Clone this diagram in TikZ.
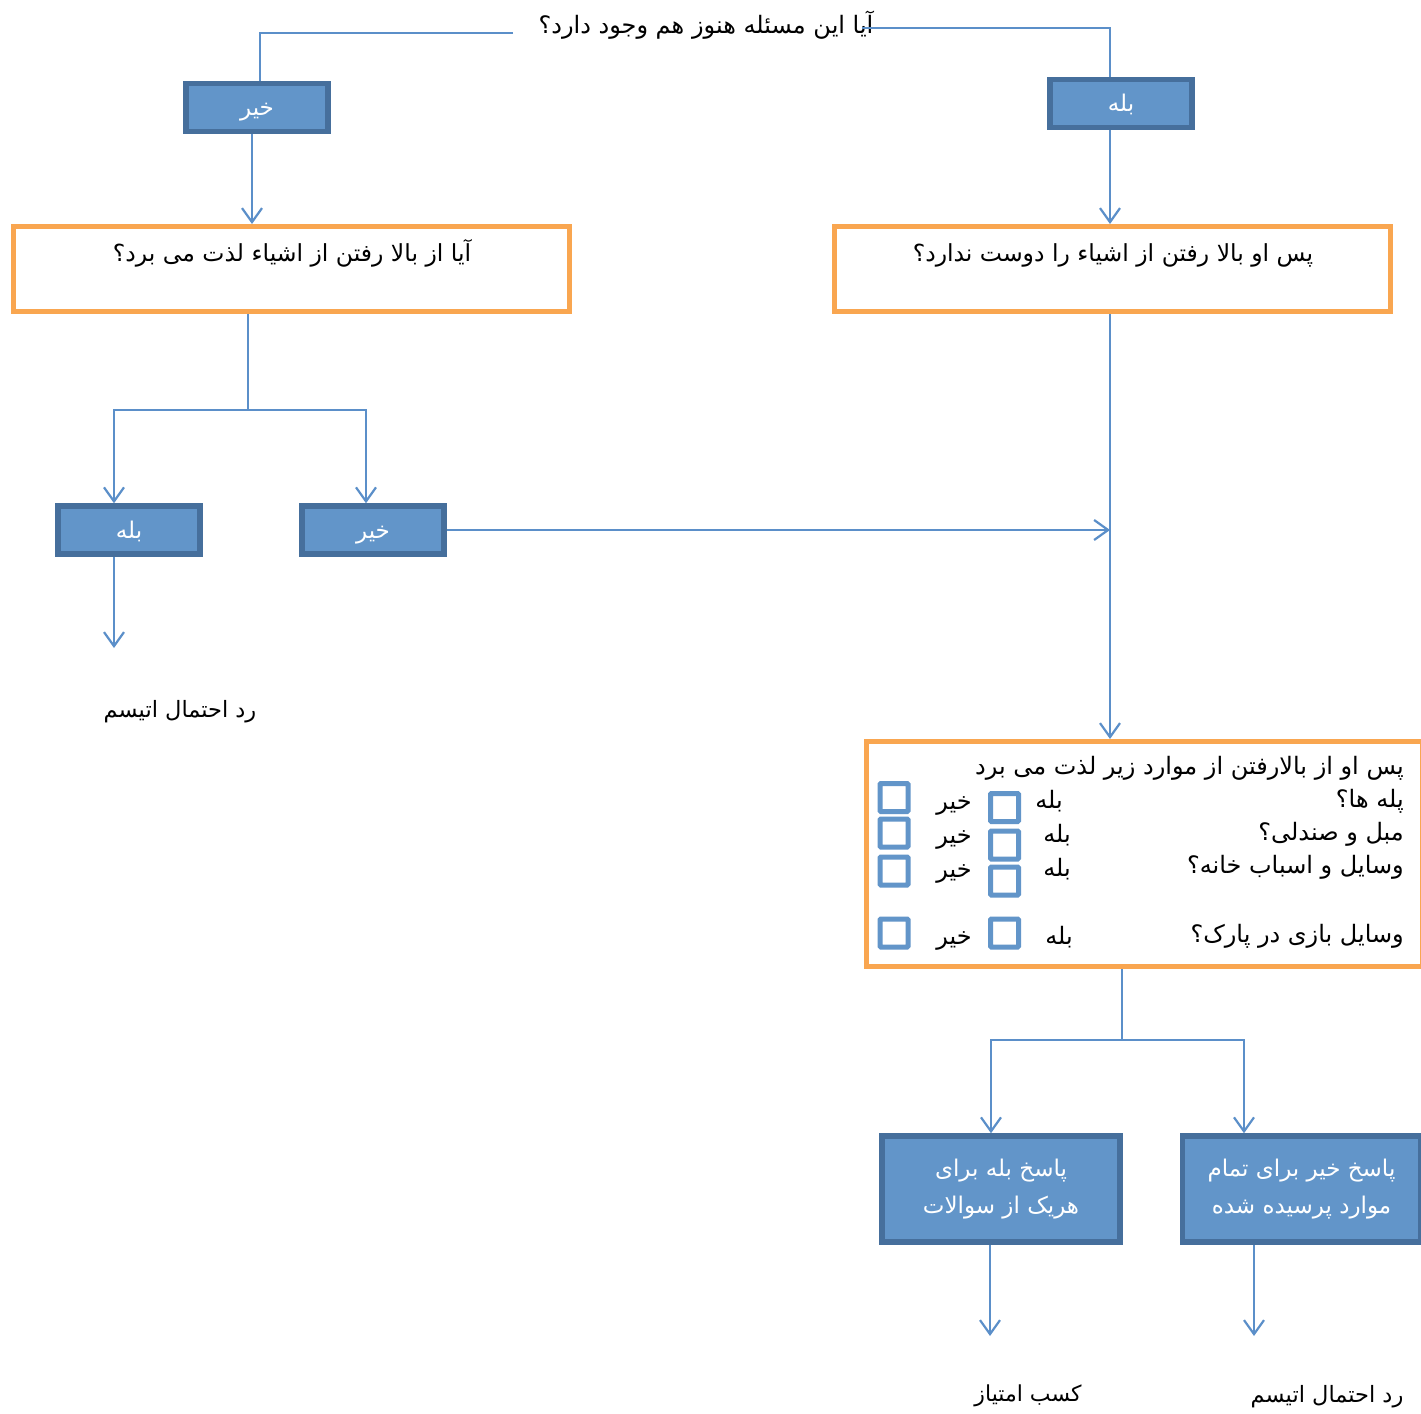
\documentclass[tikz,border=0pt]{standalone}
\usepackage{fontspec}
\newfontfamily\arabicfont[Script=Arabic]{DejaVu Sans}
\TeXXeTstate=1
\usetikzlibrary{arrows.meta}
\definecolor{boxfill}{RGB}{98,149,201}
\definecolor{boxline}{RGB}{70,111,156}
\definecolor{connc}{RGB}{91,143,201}
\definecolor{orng}{RGB}{249,166,80}
\newcommand\ptxt[1]{{\arabicfont\beginR #1\endR}}
\tikzset{
  bluebox/.style={draw=boxline, fill=boxfill, line width=5.5pt, text=white, inner sep=0pt,
    font=\fontsize{23}{27}\selectfont},
  smallbox/.style={bluebox, minimum width=142pt, minimum height=48pt, text height=18pt, text depth=2pt},
  ansbox/.style={bluebox, minimum width=238pt, minimum height=106pt, font=\fontsize{23}{37}\selectfont},
  orangebox/.style={draw=orng, line width=5pt, inner sep=0pt, minimum width=556pt},
  plain/.style={inner sep=0pt, font=\fontsize{23}{27}\selectfont},
  boxtext/.style={plain, font=\fontsize{24}{28}\selectfont},
  chk/.style={draw=boxfill, line width=5pt, minimum size=28pt, inner sep=0pt, rounded corners=1pt},
  link/.style={draw=connc, line width=2.2pt},
  arr/.style={link, -{Straight Barb[length=14pt,width=20pt]}},
}
\begin{document}
\begin{tikzpicture}[x=1pt,y=-1pt]
\useasboundingbox (0,0) rectangle (1421,1413);
\fill[white] (0,0) rectangle (1421,1413);

% top question
\node[plain, font=\fontsize{24}{28}\selectfont] (q) at (706,25) {\ptxt{آیا این مسئله هنوز هم وجود دارد؟}};
\coordinate (qw) at (513,33);
\coordinate (qe) at (862,28);

% first answers
\node[smallbox] (no1) at (257,107.5) {\ptxt{خیر}};
\node[smallbox] (yes1) at (1121,103.5) {\ptxt{بله}};

% orange question boxes
\node[orangebox, minimum height=85pt] (qLbox) at (291.5,269) {};
\node[plain, font=\fontsize{23.5}{28}\selectfont] (qLtxt) at (292,253) {\ptxt{آیا از بالا رفتن از اشیاء لذت می برد؟}};
\node[orangebox, minimum height=85pt] (qRbox) at (1112,269) {};
\node[plain, font=\fontsize{23.5}{28}\selectfont] (qRtxt) at (1113,255) {\ptxt{پس او بالا رفتن از اشیاء را دوست ندارد؟}};

% second level
\node[smallbox] (yes2) at (129,530) {\ptxt{بله}};
\node[smallbox] (no2) at (373,530) {\ptxt{خیر}};
\node[plain, font=\fontsize{22.5}{27}\selectfont] (res1) at (180,712) {\ptxt{رد احتمال اتیسم}};
\coordinate (j1) at (248,410);
\coordinate (e1) at (114,648);
\coordinate (e2) at (1110,530);

% big checklist box
\node[orangebox, minimum height=225pt] (bigbox) at (1144.5,854) {};
\node[boxtext, anchor=east] (t0) at (1404,768) {\ptxt{پس او از بالارفتن از موارد زیر لذت می برد}};
\node[boxtext, anchor=east] (t1) at (1404,801) {\ptxt{پله ها؟}};
\node[boxtext, anchor=east] (t2) at (1404,834) {\ptxt{مبل و صندلی؟}};
\node[boxtext, anchor=east] (t3) at (1404,867) {\ptxt{وسایل و اسباب خانه؟}};
\node[boxtext, anchor=east] (t4) at (1404,936) {\ptxt{وسایل بازی در پارک؟}};
\node[boxtext] (y1) at (1049,801) {\ptxt{بله}};
\node[boxtext] (y2) at (1057,835) {\ptxt{بله}};
\node[boxtext] (y3) at (1057,869) {\ptxt{بله}};
\node[boxtext] (y4) at (1059,937) {\ptxt{بله}};
\node[boxtext] (n1) at (954,806) {\ptxt{خیر}};
\node[boxtext] (n2) at (954,840) {\ptxt{خیر}};
\node[boxtext] (n3) at (954,874) {\ptxt{خیر}};
\node[boxtext] (n4) at (954,941) {\ptxt{خیر}};
\node[chk] (cl1) at (894,797.5) {};
\node[chk] (cl2) at (894,833) {};
\node[chk] (cl3) at (894,871) {};
\node[chk] (cl4) at (894,933) {};
\node[chk] (cr1) at (1004.5,807.5) {};
\node[chk] (cr2) at (1004.5,845) {};
\node[chk] (cr3) at (1004.5,881) {};
\node[chk] (cr4) at (1004.5,933) {};

% answer boxes
\node[ansbox, align=center] (ans1) at (1001,1189) {\ptxt{پاسخ بله برای}\\\ptxt{هریک از سوالات}};
\node[ansbox, align=center] (ans2) at (1301.5,1189) {\ptxt{پاسخ خیر برای تمام}\\\ptxt{موارد پرسیده شده}};
\coordinate (j2) at (1122,1040);
\coordinate (e3) at (990,1336);
\coordinate (e4) at (1254,1336);
\node[plain, font=\fontsize{22}{26}\selectfont] (res2) at (1028,1396) {\ptxt{کسب امتیاز}};
\node[plain, font=\fontsize{22.5}{27}\selectfont] (res3) at (1327,1397) {\ptxt{رد احتمال اتیسم}};

% connectors
\draw[link] (qw) -| ([xshift=3pt]no1.north);
\draw[link] (qe) -| ([xshift=-11pt]yes1.north);
\draw[arr] ([xshift=-5pt]no1.south) -- ([xshift=-5pt]no1.south |- qLbox.north);
\draw[arr] ([xshift=-11pt]yes1.south) -- ([xshift=-11pt]yes1.south |- qRbox.north);
\draw[link] (qLbox.south -| j1) -- (j1);
\draw[arr] (j1) -| ([xshift=-15pt]yes2.north);
\draw[arr] (j1) -| ([xshift=-7pt]no2.north);
\draw[arr] ([xshift=-15pt]yes2.south) -- (e1);
\draw[arr] (no2.east) -- (e2);
\draw[arr] (qRbox.south -| e2) -- (e2 |- bigbox.north);
\draw[link] (bigbox.south -| j2) -- (j2);
\draw[arr] (j2) -| ([xshift=-10pt]ans1.north);
\draw[arr] (j2) -| ([xshift=-57.5pt]ans2.north);
\draw[arr] ([xshift=-11pt]ans1.south) -- (e3);
\draw[arr] ([xshift=-47.5pt]ans2.south) -- (e4);
\end{tikzpicture}
\end{document}
